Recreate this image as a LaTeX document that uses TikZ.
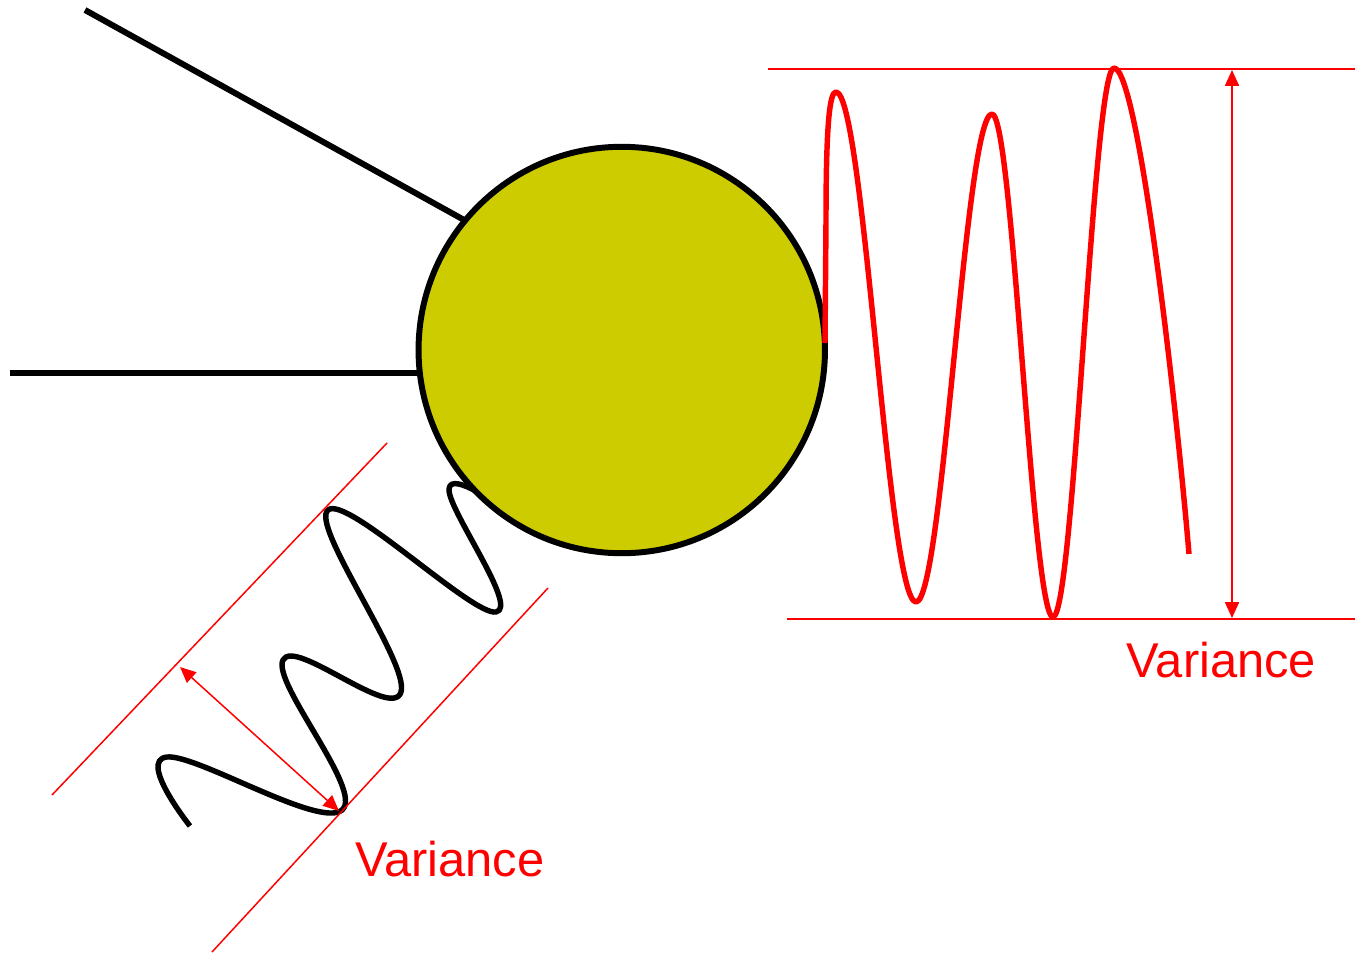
\documentclass[tikz,border=0pt]{standalone}
\usepackage{fontspec}
\setmainfont{Liberation Sans}
\usepackage{tikz}
\usetikzlibrary{arrows.meta}
\definecolor{ballyellow}{RGB}{204,204,0}

\begin{document}
\begin{tikzpicture}[x=0.02cm, y=-0.02cm, >={Triangle[length=9pt, width=8pt]},
    wave/.style={line width=3.1pt, line join=round},
    guide/.style={red, line width=0.85pt},
    vartext/.style={red, font=\fontsize{27.8}{33}\selectfont}]
      \useasboundingbox (0,0) rectangle (1355,953);

      % Arms (behind the ball)
      \coordinate (arm1) at (85,10);
      \coordinate (arm1end) at (540,262);
      \coordinate (arm2) at (10,373);
      \coordinate (arm2end) at (500,373);
      \draw[line width=3.4pt] (arm1) -- (arm1end);
      \draw[line width=3.4pt] (arm2) -- (arm2end);

      % Black wave
      \draw[wave] plot[smooth, tension=0.7] coordinates {(505,510) (449,489) (496,612) (328,510) (401,692) (283,660) (342,810) (167,757) (190,826)};

      % Ball
      \node[circle, draw, line width=3.4pt, fill=ballyellow, minimum size=8.13cm, inner sep=0pt] (ball) at (621.75,350) {};

      % Red wave
      \draw[wave, red] (825,343) -- (826,220)
        .. controls (826,120) and (830,92) .. (836,92)
        .. controls (864,92) and (888,602) .. (916,602)
        .. controls (943,602) and (965,114) .. (992,114)
        .. controls (1013,114) and (1032,617) .. (1053,617)
        .. controls (1074,617) and (1093,68) .. (1114,68)
        .. controls (1138,68) and (1176,400) .. (1189,554);

      % Guide lines
      \coordinate (g1a) at (387,443);
      \coordinate (g1b) at (52,795);
      \coordinate (g2a) at (548,588);
      \coordinate (g2b) at (212,952);
      \coordinate (g3a) at (768,69);
      \coordinate (g3b) at (1355,69);
      \coordinate (g4a) at (787,619);
      \coordinate (g4b) at (1355,619);
      \draw[guide] (g1a) -- (g1b);
      \draw[guide] (g2a) -- (g2b);
      \draw[guide] (g3a) -- (g3b);
      \draw[guide] (g4a) -- (g4b);

      % Arrows
      \coordinate (v1a) at (180,667);
      \coordinate (v1b) at (339,811);
      \coordinate (v2a) at (1232,70);
      \coordinate (v2b) at (1232,618);
      \draw[guide, <->] (v1a) -- (v1b);
      \draw[guide, <->] (v2a) -- (v2b);

      % Labels
      \node[vartext, anchor=base] (var1) at (450,876) {Variance};
      \node[vartext, anchor=base] (var2) at (1221.5,677) {Variance};
    \end{tikzpicture}
\end{document}
